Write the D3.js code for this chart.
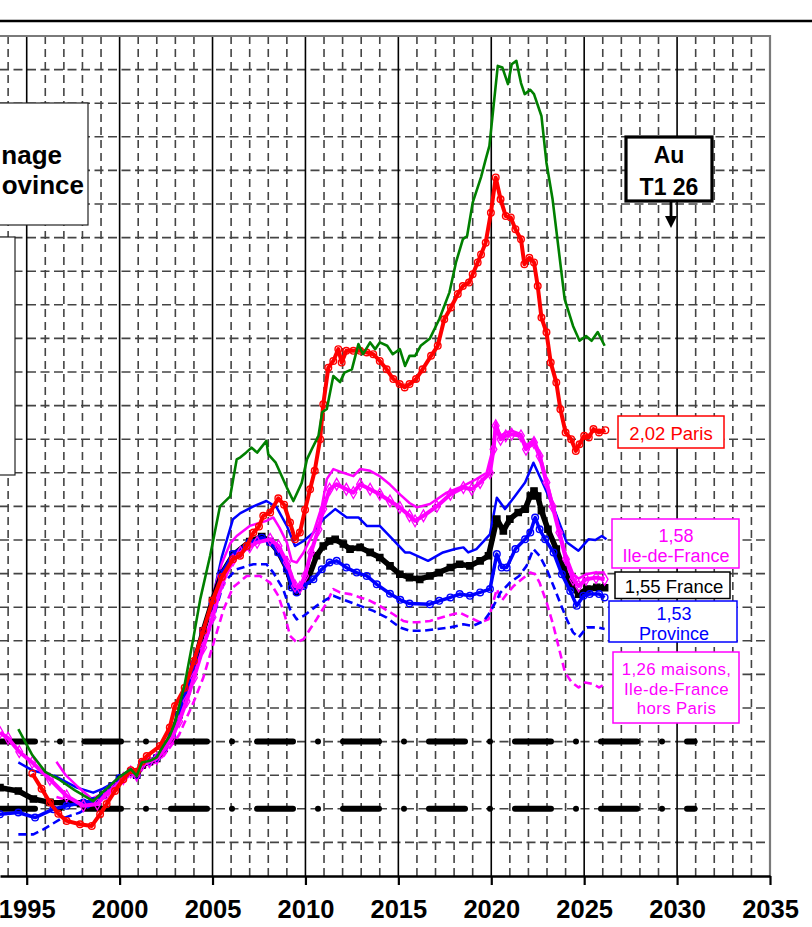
<!DOCTYPE html>
<html>
<head>
<meta charset="utf-8">
<script src="https://cdn.jsdelivr.net/npm/d3@7"></script>
<style>
  body { margin: 0; background: #fff; }
  svg { display: block; }
  text { font-family: "Liberation Sans", Arial, sans-serif; }
</style>
</head>
<body>
<div id="chart"></div>
<script>
'use strict';

// x axis labels, one tick every 5 years
var yearTicks = [1995, 2000, 2005, 2010, 2015, 2020, 2025, 2030, 2035];

// [year, index]
var greenData = [
  [1994.55,1.137],[1995.3,1.06],[1996.0,1.01],[1996.8,0.985],[1997.6,0.955],[1998.58,0.923],
  [1999.1,0.95],[1999.6,0.975],[2000.0,0.995],[2000.6,1.018],[2000.92,0.998],[2001.2,1.038],
  [2001.64,1.043],[2002.0,1.053],[2002.35,1.087],[2002.7,1.117],[2003.0,1.16],[2003.5,1.27],
  [2003.96,1.405],[2004.34,1.524],[2004.87,1.653],[2005.4,1.80],[2005.95,1.83],[2006.3,1.94],
  [2006.5,1.946],[2006.8,1.96],[2007.1,1.975],[2007.4,1.96],[2007.9,1.995],[2008.0,1.955],
  [2008.4,1.93],[2009.0,1.856],[2009.35,1.816],[2009.8,1.87],[2010.08,1.94],[2010.34,1.97],
  [2010.7,2.01],[2010.9,2.08],[2011.15,2.09],[2011.5,2.188],[2011.86,2.17],[2012.1,2.198],
  [2012.5,2.208],[2012.85,2.283],[2013.1,2.253],[2013.48,2.288],[2013.75,2.268],[2014.0,2.288],
  [2014.4,2.278],[2014.7,2.253],[2015.08,2.268],[2015.36,2.218],[2015.6,2.248],[2015.9,2.248],
  [2016.2,2.278],[2016.7,2.30],[2017.2,2.357],[2017.75,2.437],[2018.1,2.526],[2018.47,2.595],
  [2018.7,2.605],[2019.0,2.704],[2019.45,2.78],[2019.7,2.833],[2019.9,2.873],[2020.35,3.111],
  [2020.6,3.106],[2020.9,3.057],[2021.1,3.116],[2021.35,3.126],[2021.6,3.06],[2021.8,3.027],
  [2022.1,3.04],[2022.3,3.027],[2022.7,2.962],[2022.97,2.823],[2023.3,2.714],[2023.95,2.417],
  [2024.4,2.337],[2024.75,2.293],[2025.1,2.307],[2025.4,2.293],[2025.73,2.319],[2026.1,2.278]
];

var parisData = [
  [1995.3,1.005],[1995.8,0.96],[1996.25,0.919],[1996.7,0.885],[1997.15,0.864],[1997.87,0.854],
  [1998.5,0.849],[1998.95,0.884],[1999.3,0.914],[1999.75,0.953],[2000.2,0.988],[2000.6,1.015],
  [2000.92,1.01],[2001.2,1.04],[2001.46,1.057],[2002.17,1.087],[2002.7,1.142],[2002.98,1.206],
  [2003.5,1.26],[2004.0,1.34],[2004.5,1.43],[2005.0,1.52],[2005.5,1.59],[2006.1,1.643],
  [2006.48,1.653],[2006.84,1.682],[2007.2,1.722],[2007.5,1.74],[2007.73,1.772],[2008.1,1.782],
  [2008.54,1.824],[2008.85,1.805],[2009.17,1.752],[2009.44,1.702],[2009.7,1.722],[2009.98,1.79],
  [2010.25,1.851],[2010.5,1.906],[2010.79,2.0],[2010.96,2.104],[2011.23,2.213],[2011.5,2.233],
  [2011.77,2.268],[2011.95,2.228],[2012.2,2.263],[2012.58,2.263],[2012.94,2.263],[2013.3,2.258],
  [2013.65,2.253],[2014.0,2.233],[2014.37,2.208],[2014.73,2.179],[2015.07,2.164],[2015.34,2.154],
  [2015.6,2.164],[2015.95,2.179],[2016.3,2.208],[2016.76,2.248],[2017.12,2.278],[2017.47,2.357],
  [2017.83,2.392],[2018.2,2.432],[2018.47,2.456],[2018.8,2.466],[2019.0,2.491],[2019.27,2.526],
  [2019.45,2.55],[2019.7,2.585],[2019.98,2.674],[2020.24,2.779],[2020.5,2.714],[2020.78,2.664],
  [2021.05,2.66],[2021.3,2.625],[2021.6,2.595],[2021.78,2.521],[2022.05,2.54],[2022.3,2.526],
  [2022.5,2.456],[2022.7,2.362],[2022.97,2.318],[2023.2,2.228],[2023.5,2.169],[2023.72,2.089],
  [2024.0,2.02],[2024.3,2.0],[2024.55,1.965],[2024.75,1.985],[2025.0,2.01],[2025.25,2.005],
  [2025.5,2.03],[2025.8,2.02],[2026.14,2.027]
];

var idfData = [
  [1993.56,1.127],[1994.0,1.11],[1994.6,1.07],[1995.3,1.038],[1996.25,0.988],[1997.15,0.938],
  [1998.05,0.909],[1998.8,0.914],[1999.3,0.945],[1999.75,0.965],[2000.2,0.99],[2000.6,1.01],
  [2000.92,1.0],[2001.2,1.03],[2001.6,1.04],[2002.0,1.05],[2002.4,1.075],[2002.8,1.11],
  [2003.2,1.16],[2003.6,1.22],[2004.0,1.29],[2004.5,1.38],[2005.0,1.47],[2005.5,1.57],
  [2006.1,1.64],[2006.5,1.663],[2007.0,1.68],[2007.4,1.693],[2008.1,1.702],[2008.55,1.682],
  [2009.0,1.633],[2009.44,1.563],[2009.7,1.559],[2009.98,1.593],[2010.3,1.663],[2010.7,1.732],
  [2010.96,1.792],[2011.3,1.851],[2011.68,1.866],[2012.2,1.851],[2012.58,1.841],[2012.94,1.866],
  [2013.48,1.851],[2014.0,1.836],[2014.55,1.816],[2015.08,1.797],[2015.6,1.772],[2015.9,1.757],
  [2016.35,1.772],[2017.07,1.80],[2017.8,1.836],[2018.5,1.856],[2018.95,1.851],[2019.4,1.871],
  [2019.93,1.90],[2020.12,1.97],[2020.24,2.04],[2020.5,2.0],[2020.78,2.01],[2021.1,2.015],
  [2021.6,2.01],[2021.87,1.97],[2022.3,1.99],[2022.6,1.95],[2022.97,1.871],[2023.3,1.80],
  [2023.66,1.722],[2024.02,1.643],[2024.4,1.583],[2024.7,1.563],[2025.1,1.583],[2025.64,1.588],
  [2026.1,1.583]
];

var idfThinData = [
  [1996.6,1.04],[1997.1,1.0],[1997.7,0.968],[1998.5,0.93],[1999.1,0.945],[1999.6,0.97],
  [2000.0,0.99],[2000.6,1.012],[2000.92,1.0],[2001.2,1.03],[2001.6,1.04],[2002.0,1.05],
  [2002.4,1.078],[2002.8,1.115],[2003.2,1.17],[2003.6,1.24],[2004.0,1.31],[2004.5,1.42],
  [2005.0,1.53],[2005.5,1.63],[2005.95,1.69],[2006.3,1.712],[2007.0,1.742],[2007.9,1.757],
  [2008.27,1.767],[2008.6,1.737],[2009.0,1.693],[2009.26,1.638],[2009.53,1.633],[2009.9,1.663],
  [2010.43,1.722],[2010.88,1.80],[2011.15,1.881],[2011.5,1.911],[2012.04,1.90],[2012.58,1.89],
  [2012.94,1.911],[2013.48,1.906],[2014.0,1.89],[2014.55,1.865],[2015.1,1.835],[2015.6,1.81],
  [2016.0,1.797],[2016.7,1.807],[2017.6,1.841],[2018.5,1.861],[2019.2,1.881],[2019.75,1.90],
  [2020.12,1.98],[2020.24,2.05],[2020.5,2.01],[2020.78,2.02],[2021.1,2.025],[2021.6,2.015],
  [2021.87,1.98],[2022.3,2.0],[2022.6,1.96],[2022.97,1.88],[2023.3,1.81],[2023.66,1.73],
  [2024.02,1.655],[2024.4,1.60],[2024.7,1.585],[2025.1,1.598],[2025.6,1.603],[2026.1,1.603]
];

var franceData = [
  [1993.56,0.963],[1994.55,0.953],[1995.36,0.929],[1996.25,0.919],[1997.15,0.918],[1997.9,0.915],
  [1998.6,0.92],[1999.1,0.94],[1999.6,0.968],[2000.0,0.99],[2000.6,1.01],[2000.92,1.0],
  [2001.2,1.03],[2001.6,1.04],[2002.0,1.05],[2002.4,1.08],[2002.8,1.12],[2003.2,1.18],
  [2003.6,1.25],[2004.0,1.33],[2004.5,1.43],[2005.0,1.52],[2005.5,1.6],[2006.1,1.655],
  [2007.0,1.695],[2007.65,1.71],[2008.1,1.695],[2008.54,1.665],[2009.0,1.615],[2009.26,1.565],
  [2009.53,1.548],[2010.1,1.578],[2010.6,1.653],[2010.96,1.682],[2011.3,1.697],[2011.6,1.702],
  [2012.04,1.688],[2012.4,1.673],[2012.94,1.678],[2013.48,1.663],[2014.0,1.648],[2014.55,1.623],
  [2015.08,1.598],[2015.6,1.588],[2016.15,1.583],[2016.7,1.593],[2017.2,1.603],[2017.8,1.618],
  [2018.3,1.628],[2018.85,1.623],[2019.4,1.638],[2019.85,1.653],[2020.3,1.762],[2020.65,1.727],
  [2021.0,1.762],[2021.45,1.782],[2021.82,1.792],[2022.1,1.831],[2022.3,1.846],[2022.5,1.831],
  [2022.7,1.787],[2023.05,1.732],[2023.5,1.673],[2023.9,1.613],[2024.33,1.563],[2024.7,1.539],
  [2025.15,1.554],[2025.68,1.559],[2026.1,1.558]
];

var provinceData = [
  [1993.56,0.884],[1994.55,0.889],[1995.45,0.874],[1996.43,0.899],[1997.15,0.909],[1998.05,0.919],
  [1998.58,0.923],[1999.1,0.94],[1999.6,0.968],[2000.0,0.992],[2000.6,1.012],[2000.92,1.0],
  [2001.2,1.035],[2001.6,1.042],[2002.0,1.052],[2002.4,1.082],[2002.8,1.12],[2003.2,1.18],
  [2003.6,1.25],[2004.0,1.33],[2004.5,1.43],[2005.0,1.51],[2005.5,1.6],[2006.1,1.658],
  [2007.0,1.693],[2007.65,1.707],[2008.1,1.693],[2008.54,1.663],[2009.0,1.613],[2009.26,1.559],
  [2009.53,1.544],[2009.9,1.563],[2010.43,1.583],[2010.88,1.613],[2011.3,1.633],[2011.68,1.638],
  [2012.2,1.618],[2012.76,1.603],[2013.3,1.593],[2013.84,1.568],[2014.55,1.54],[2015.1,1.522],
  [2015.6,1.511],[2016.7,1.509],[2017.2,1.519],[2017.8,1.529],[2018.3,1.539],[2018.85,1.534],
  [2019.4,1.544],[2019.93,1.554],[2020.3,1.658],[2020.56,1.618],[2020.83,1.618],[2021.3,1.673],
  [2021.82,1.702],[2022.1,1.722],[2022.36,1.767],[2022.6,1.732],[2022.9,1.702],[2023.35,1.663],
  [2023.8,1.598],[2024.25,1.548],[2024.6,1.504],[2024.96,1.534],[2025.3,1.539],[2025.8,1.539],
  [2026.1,1.529]
];

var blueThinData = [
  [1994.55,1.038],[1995.36,1.013],[1996.5,0.998],[1997.7,0.963],[1998.58,0.948],[1999.1,0.96],
  [1999.6,0.975],[2000.0,0.995],[2000.6,1.015],[2000.92,1.0],[2001.2,1.037],[2001.6,1.043],
  [2002.0,1.053],[2002.4,1.085],[2002.8,1.125],[2003.2,1.19],[2003.6,1.27],[2004.0,1.35],
  [2004.5,1.43],[2005.0,1.524],[2005.5,1.65],[2006.1,1.762],[2006.5,1.78],[2007.2,1.80],
  [2007.9,1.816],[2008.45,1.797],[2009.0,1.742],[2009.44,1.682],[2009.9,1.697],[2010.43,1.722],
  [2010.96,1.762],[2011.6,1.792],[2012.22,1.767],[2012.85,1.767],[2013.3,1.742],[2014.0,1.742],
  [2014.7,1.702],[2015.36,1.663],[2015.6,1.663],[2016.6,1.638],[2017.4,1.663],[2018.05,1.673],
  [2018.5,1.678],[2018.76,1.663],[2019.2,1.673],[2019.93,1.717],[2020.3,1.826],[2020.74,1.792],
  [2021.28,1.831],[2021.82,1.871],[2022.27,1.93],[2022.8,1.866],[2023.35,1.797],[2024.06,1.693],
  [2024.69,1.668],[2025.23,1.702],[2025.6,1.70],[2025.95,1.712],[2026.2,1.702]
];

var blueDashData = [
  [1994.55,0.824],[1995.36,0.824],[1995.9,0.839],[1996.8,0.869],[1997.87,0.889],[1998.58,0.915],
  [1999.1,0.935],[1999.6,0.965],[2000.0,0.988],[2000.6,1.008],[2000.92,0.998],[2001.2,1.03],
  [2001.6,1.04],[2002.0,1.05],[2002.4,1.075],[2002.8,1.11],[2003.2,1.16],[2003.6,1.22],
  [2004.0,1.29],[2004.5,1.38],[2005.0,1.46],[2005.6,1.573],[2006.3,1.613],[2007.2,1.628],
  [2007.9,1.628],[2008.27,1.603],[2008.8,1.554],[2009.17,1.494],[2009.53,1.464],[2009.9,1.474],
  [2010.6,1.504],[2011.15,1.524],[2011.5,1.534],[2012.2,1.519],[2012.94,1.504],[2013.66,1.489],
  [2014.37,1.469],[2015.08,1.44],[2015.6,1.43],[2016.35,1.43],[2017.07,1.435],[2017.8,1.44],
  [2018.5,1.449],[2019.0,1.444],[2019.6,1.459],[2019.93,1.484],[2020.5,1.544],[2021.0,1.573],
  [2021.5,1.593],[2021.9,1.623],[2022.27,1.673],[2022.6,1.653],[2022.98,1.613],[2023.35,1.563],
  [2023.7,1.514],[2024.06,1.464],[2024.4,1.425],[2024.7,1.41],[2025.15,1.44],[2025.7,1.44],
  [2026.1,1.435]
];

var maisonsData = [
  [1996.6,0.935],[1997.5,0.92],[1998.5,0.915],[1999.1,0.93],[1999.6,0.955],[2000.0,0.98],
  [2000.6,1.0],[2000.92,0.99],[2001.2,1.02],[2001.6,1.03],[2002.0,1.04],[2002.4,1.06],
  [2002.8,1.09],[2003.2,1.12],[2003.6,1.17],[2004.0,1.22],[2004.5,1.29],[2004.85,1.355],
  [2005.6,1.494],[2006.1,1.559],[2006.84,1.593],[2007.55,1.593],[2008.1,1.573],[2008.54,1.534],
  [2008.9,1.474],[2009.17,1.415],[2009.53,1.395],[2009.9,1.405],[2010.25,1.435],[2010.6,1.464],
  [2011.15,1.514],[2011.5,1.554],[2011.86,1.544],[2012.4,1.539],[2012.94,1.529],[2013.48,1.519],
  [2014.0,1.504],[2014.73,1.479],[2015.27,1.459],[2015.6,1.455],[2016.0,1.455],[2016.7,1.459],
  [2017.6,1.474],[2018.3,1.484],[2018.85,1.469],[2019.4,1.455],[2019.85,1.464],[2020.1,1.514],
  [2020.3,1.554],[2020.56,1.519],[2020.83,1.539],[2021.2,1.563],[2021.64,1.583],[2022.1,1.603],
  [2022.36,1.598],[2022.6,1.573],[2022.98,1.514],[2023.35,1.444],[2023.7,1.365],[2023.97,1.306],
  [2024.33,1.276],[2024.7,1.261],[2025.05,1.276],[2025.5,1.271],[2025.8,1.261],[2026.1,1.271]
];

// tunnel bounds (+/- 10 % around 1)
var tunnelValues = [0.9, 1.1];
var tunnelEnd = 2030.94;

var W = 812, H = 927;
var plotTop = 36, plotBottom = 876, plotRight = 770;

var x = d3.scaleLinear().domain([1993.563, 2035]).range([0, plotRight]);
var y = d3.scaleLinear().domain([0.7, 3.2]).range([plotBottom, plotTop]);

var svg = d3.select('#chart').append('svg')
  .attr('width', W).attr('height', H);

svg.append('defs').append('clipPath').attr('id', 'plotclip')
  .append('rect').attr('x', 0).attr('y', plotTop)
  .attr('width', plotRight).attr('height', plotBottom - plotTop);

// rule above the chart
svg.append('line')
  .attr('x1', 0).attr('x2', W).attr('y1', 21).attr('y2', 21)
  .attr('stroke', '#000').attr('stroke-width', 2.5);

var grid = svg.append('g').attr('clip-path', 'url(#plotclip)');

var hValues = d3.range(8, 32).map(function(d){ return d / 10; });
grid.selectAll('line.h').data(hValues).enter().append('line')
  .attr('class', 'h')
  .attr('x1', 0).attr('x2', plotRight)
  .attr('y1', function(d){ return y(d); }).attr('y2', function(d){ return y(d); })
  .attr('stroke', '#444').attr('stroke-width', 1.6)
  .attr('stroke-dasharray', '9,4.5');

var minorYears = d3.range(1994, 2035).filter(function(d){ return d % 5 !== 0; });
grid.selectAll('line.v').data(minorYears).enter().append('line')
  .attr('class', 'v')
  .attr('x1', function(d){ return x(d); }).attr('x2', function(d){ return x(d); })
  .attr('y1', plotTop).attr('y2', plotBottom)
  .attr('stroke', '#444').attr('stroke-width', 1.6)
  .attr('stroke-dasharray', '8,5');

grid.selectAll('line.major').data(yearTicks.filter(function(d){ return d < 2035; }))
  .enter().append('line')
  .attr('class', 'major')
  .attr('x1', function(d){ return x(d); }).attr('x2', function(d){ return x(d); })
  .attr('y1', plotTop).attr('y2', plotBottom)
  .attr('stroke', '#000').attr('stroke-width', 1.6);

// plot frame (top and right)
svg.append('path')
  .attr('d', 'M0,' + plotTop + 'H' + plotRight + 'V' + plotBottom)
  .attr('fill', 'none').attr('stroke', '#7a7a7a').attr('stroke-width', 2.2);

// tunnel lines, long dash - dot
var tunnel = svg.append('g').attr('clip-path', 'url(#plotclip)');
tunnel.selectAll('line').data(tunnelValues).enter().append('line')
  .attr('x1', x(1993.563)).attr('x2', x(tunnelEnd))
  .attr('y1', function(d){ return y(d); }).attr('y2', function(d){ return y(d); })
  .attr('stroke', '#000').attr('stroke-width', 6)
  .attr('stroke-linecap', 'round')
  .attr('stroke-dasharray', '36,25,0,25')
  .attr('stroke-dashoffset', 1);

// left boxes (legend / title, cut at the image edge)
svg.append('rect').attr('x', -10).attr('y', 103).attr('width', 98).attr('height', 122)
  .attr('fill', '#fff').attr('stroke', '#222').attr('stroke-width', 1.2);
svg.append('text').attr('x', 62).attr('y', 163.5).attr('text-anchor', 'end')
  .attr('font-size', 26).attr('font-weight', 'bold').text('nage');
svg.append('text').attr('x', 84).attr('y', 193.5).attr('text-anchor', 'end')
  .attr('font-size', 26).attr('font-weight', 'bold').text('ovince');
svg.append('rect').attr('x', -10).attr('y', 237).attr('width', 25).attr('height', 238)
  .attr('fill', '#fff').attr('stroke', '#222').attr('stroke-width', 1.2);

// series
var series = [
  { data: maisonsData,  color: '#ff00ff', width: 2.6, dash: '8,4.5' },
  { data: blueDashData, color: '#0000ff', width: 2.6, dash: '8,4.5' },
  { data: blueThinData, color: '#0000ff', width: 2.5 },
  { data: idfThinData,  color: '#ff00ff', width: 2.5 },
  { data: franceData,   color: '#000000', width: 5.5, marker: 'square' },
  { data: provinceData, color: '#0000ff', width: 3.5, marker: 'circle' },
  { data: idfData,      color: '#ff00ff', width: 4, marker: 'diamond' },
  { data: parisData,    color: '#ff0000', width: 4, marker: 'circle' },
  { data: greenData,    color: '#008000', width: 2.6 }
];

var line = d3.line()
  .x(function(d){ return x(d[0]); })
  .y(function(d){ return y(d[1]); });

var plotG = svg.append('g').attr('clip-path', 'url(#plotclip)');

series.forEach(function(s){
  var g = plotG.append('g');
  g.append('path').datum(s.data)
    .attr('d', line)
    .attr('fill', 'none')
    .attr('stroke', s.color)
    .attr('stroke-width', s.width)
    .attr('stroke-linejoin', 'round')
    .attr('stroke-dasharray', s.dash || null);

  if (s.marker === 'circle') {
    g.selectAll('circle').data(s.data).enter().append('circle')
      .attr('cx', function(d){ return x(d[0]); })
      .attr('cy', function(d){ return y(d[1]); })
      .attr('r', 3.3)
      .attr('fill', 'none').attr('stroke', s.color).attr('stroke-width', 1.4);
  } else if (s.marker === 'diamond' || s.marker === 'square') {
    var sym = d3.symbol()
      .type(s.marker === 'diamond' ? d3.symbolDiamond : d3.symbolSquare)
      .size(40);
    g.selectAll('path.m').data(s.data).enter().append('path')
      .attr('class', 'm')
      .attr('d', sym)
      .attr('transform', function(d){ return 'translate(' + x(d[0]) + ',' + y(d[1]) + ')'; })
      .attr('fill', s.marker === 'square' ? s.color : 'none')
      .attr('stroke', s.color).attr('stroke-width', 1.3);
  }
});

// bottom axis
var xAxis = d3.axisBottom(x)
  .tickValues(yearTicks)
  .tickFormat(d3.format('d'))
  .tickSizeInner(9)
  .tickSizeOuter(0)
  .tickPadding(15);

var axisG = svg.append('g')
  .attr('transform', 'translate(0,' + plotBottom + ')')
  .call(xAxis);
axisG.select('.domain').attr('stroke', '#000').attr('stroke-width', 2.4);
axisG.selectAll('.tick line').attr('stroke', '#000').attr('stroke-width', 2.2);
axisG.selectAll('.tick text')
  .attr('font-family', '"Liberation Sans", Arial, sans-serif')
  .attr('font-size', 25.5).attr('font-weight', 'bold').attr('fill', '#000');

// end-of-series labels
var labels = [
  { lines: ['2,02 Paris'], color: '#ff0000', box: [618, 416, 106, 32], cx: 671, base: [440], size: 18.5 },
  { lines: ['1,58', 'Ile-de-France'], color: '#ff00ff', box: [612, 519, 127, 49], cx: 676, base: [541.5, 561.5], size: 18 },
  { lines: ['1,55 France'], color: '#000000', box: [615, 572, 115, 26.5], cx: 674, base: [593], size: 18.5 },
  { lines: ['1,53', 'Province'], color: '#0000ff', box: [609, 601, 128, 41], cx: 674, base: [620, 640], size: 18 },
  { lines: ['1,26 maisons,', 'Ile-de-France', 'hors Paris'], color: '#ff00ff', box: [613, 652, 126, 71], cx: 676.5, base: [674.5, 694.5, 714], size: 16.8 }
];

var labG = svg.append('g');
labels.forEach(function(l){
  labG.append('rect')
    .attr('x', l.box[0]).attr('y', l.box[1]).attr('width', l.box[2]).attr('height', l.box[3])
    .attr('fill', '#fff').attr('stroke', l.color).attr('stroke-width', 1.5);
  l.lines.forEach(function(t, i){
    labG.append('text')
      .attr('x', l.cx).attr('y', l.base[i])
      .attr('text-anchor', 'middle')
      .attr('font-size', l.size).attr('fill', l.color)
      .attr('letter-spacing', l.size < 17 ? 0.4 : null)
      .text(t);
  });
});

// "Au T1 26" marker
var au = svg.append('g');
au.append('rect').attr('x', 626).attr('y', 137).attr('width', 86).attr('height', 64)
  .attr('fill', '#fff').attr('stroke', '#000').attr('stroke-width', 3.2);
au.append('text').attr('x', 669).attr('y', 163).attr('text-anchor', 'middle')
  .attr('font-size', 23).attr('font-weight', 'bold').text('Au');
au.append('text').attr('x', 669).attr('y', 194.5).attr('text-anchor', 'middle')
  .attr('font-size', 23).attr('font-weight', 'bold').text('T1 26');
au.append('line').attr('x1', 671).attr('x2', 671).attr('y1', 202).attr('y2', 218)
  .attr('stroke', '#000').attr('stroke-width', 2.8);
au.append('path').attr('d', 'M665,216L677,216L671,228Z').attr('fill', '#000');
</script>
</body>
</html>
